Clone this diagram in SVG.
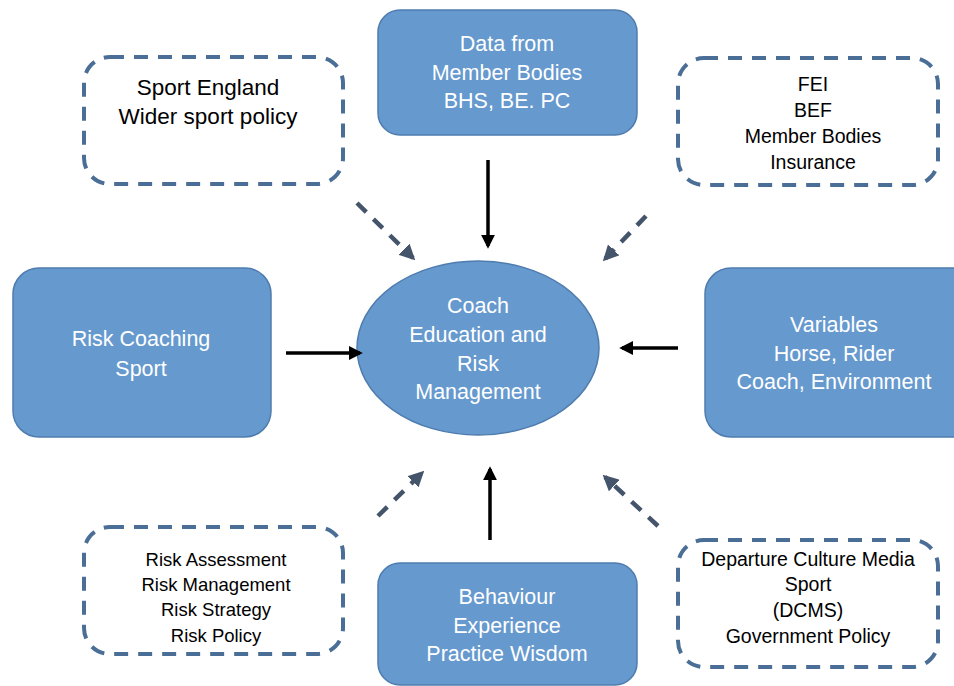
<svg xmlns="http://www.w3.org/2000/svg" width="954" height="686" viewBox="0 0 954 686">
<style>
.solid{fill:#6699CE;stroke:#4F7CAE;stroke-width:1.5}
.dash{fill:#FFFFFF;stroke:#4A6E96;stroke-width:4;stroke-dasharray:14 10}
.wt{font-family:"Liberation Sans",Arial,sans-serif;font-size:21.5px;fill:#FFFFFF;text-anchor:middle}
.bt{font-family:"Liberation Sans",Arial,sans-serif;font-size:22.5px;fill:#000000;text-anchor:middle}
.st{font-family:"Liberation Sans",Arial,sans-serif;font-size:19.5px;fill:#000000;text-anchor:middle}
.rt{font-family:"Liberation Sans",Arial,sans-serif;font-size:18.5px;fill:#000000;text-anchor:middle}
.ca{stroke:#000000;stroke-width:3.5;fill:none}
.da{stroke:#44546A;stroke-width:4.5;fill:none;stroke-dasharray:13 10}
</style>
<defs>
<marker id="ah" markerWidth="4" markerHeight="4" refX="3.2" refY="2" orient="auto" markerUnits="strokeWidth">
<path d="M0,0 L4,2 L0,4 z" fill="#000000"/>
</marker>
<marker id="dh" markerWidth="3.5" markerHeight="3.5" refX="2.8" refY="1.75" orient="auto" markerUnits="strokeWidth">
<path d="M0,0 L3.5,1.75 L0,3.5 z" fill="#44546A"/>
</marker>
</defs>
<rect width="954" height="686" fill="#FFFFFF"/>
<g id="sport-england">
<rect class="dash" x="84" y="57" width="259" height="127" rx="26"/>
<text class="bt" x="208" y="95">Sport England</text>
<text class="bt" x="208" y="124">Wider sport policy</text>
</g>
<g id="data-member-bodies">
<rect class="solid" x="378" y="10" width="259" height="125" rx="22"/>
<text class="wt" x="507" y="51">Data from</text>
<text class="wt" x="507" y="80">Member Bodies</text>
<text class="wt" x="507" y="108">BHS, BE. PC</text>
</g>
<g id="fei">
<rect class="dash" x="678" y="58" width="260" height="127" rx="26"/>
<text class="st" x="813" y="91">FEI</text>
<text class="st" x="813" y="117">BEF</text>
<text class="st" x="813" y="143">Member Bodies</text>
<text class="st" x="813" y="169">Insurance</text>
</g>
<g id="risk-coaching">
<rect class="solid" x="13" y="268" width="258" height="169" rx="26"/>
<text class="wt" x="141" y="346">Risk Coaching</text>
<text class="wt" x="141" y="376">Sport</text>
</g>
<g id="coach-education">
<ellipse class="solid" cx="478" cy="348" rx="121" ry="87"/>
<text class="wt" x="478" y="313">Coach</text>
<text class="wt" x="478" y="342">Education and</text>
<text class="wt" x="478" y="371">Risk</text>
<text class="wt" x="478" y="399">Management</text>
</g>
<g id="variables">
<rect class="solid" x="705" y="268" width="275" height="169" rx="26"/>
<text class="wt" x="834" y="332">Variables</text>
<text class="wt" x="834" y="361">Horse, Rider</text>
<text class="wt" x="834" y="389">Coach, Environment</text>
</g>
<g id="risk-assessment">
<rect class="dash" x="84" y="527" width="259" height="127" rx="26"/>
<text class="rt" x="216" y="566">Risk Assessment</text>
<text class="rt" x="216" y="591">Risk Management</text>
<text class="rt" x="216" y="616">Risk Strategy</text>
<text class="rt" x="216" y="642">Risk Policy</text>
</g>
<g id="behaviour">
<rect class="solid" x="378" y="563" width="259" height="122" rx="22"/>
<text class="wt" x="507" y="604">Behaviour</text>
<text class="wt" x="507" y="633">Experience</text>
<text class="wt" x="507" y="661">Practice Wisdom</text>
</g>
<g id="dcms">
<rect class="dash" x="678" y="540" width="260" height="127" rx="26"/>
<text class="st" x="808" y="566">Departure Culture Media</text>
<text class="st" x="808" y="591">Sport</text>
<text class="st" x="808" y="617">(DCMS)</text>
<text class="st" x="808" y="643">Government Policy</text>
</g>
<g id="connectors">
<line class="ca" x1="488" y1="160" x2="488" y2="246" marker-end="url(#ah)"/>
<line class="ca" x1="286" y1="353" x2="360" y2="353" marker-end="url(#ah)"/>
<line class="ca" x1="678" y1="348" x2="622" y2="348" marker-end="url(#ah)"/>
<line class="ca" x1="490" y1="540" x2="490" y2="469" marker-end="url(#ah)"/>
<line class="da" x1="357" y1="203" x2="413" y2="258" marker-end="url(#dh)"/>
<line class="da" x1="646" y1="216" x2="605" y2="259" marker-end="url(#dh)"/>
<line class="da" x1="378" y1="516" x2="422" y2="473" marker-end="url(#dh)"/>
<line class="da" x1="658" y1="526" x2="605" y2="477" marker-end="url(#dh)"/>
</g>
</svg>
